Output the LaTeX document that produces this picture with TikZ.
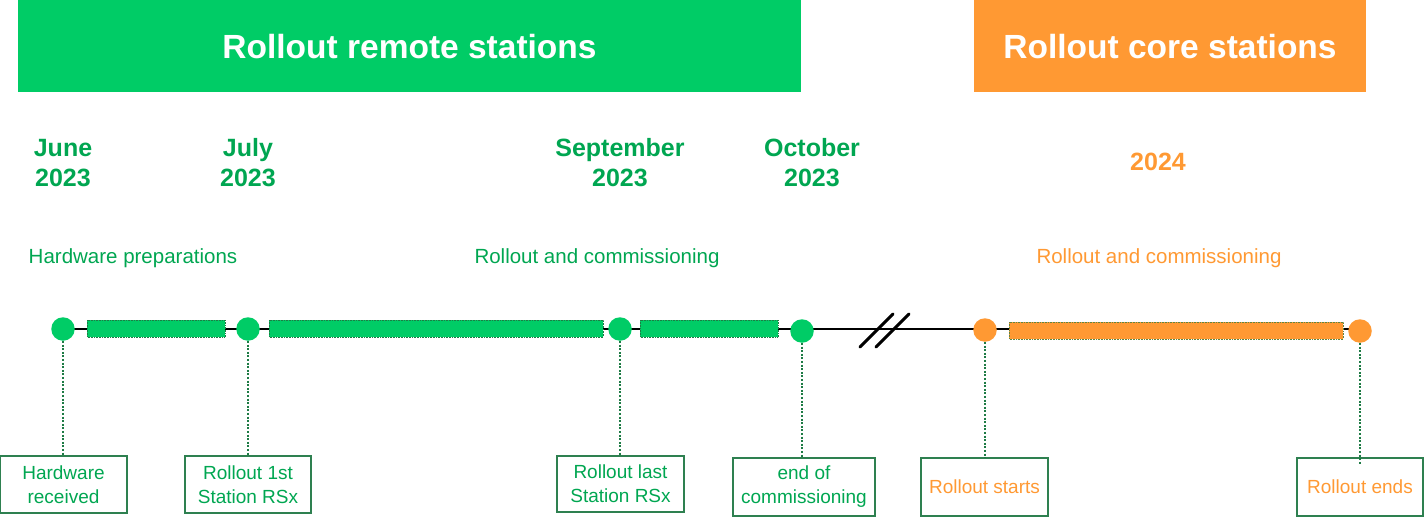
\documentclass[tikz,border=0pt]{standalone}
\usepackage{fontspec}
\setmainfont{Liberation Sans}
\definecolor{hgreen}{HTML}{00CC66}
\definecolor{tgreen}{HTML}{00A651}
\definecolor{dgreen}{HTML}{2E8050}
\definecolor{lgreen}{HTML}{1E7B45}
\definecolor{orng}{HTML}{FF9933}
\begin{document}
\begin{tikzpicture}[x=1pt,y=-1pt,
  header/.style={inner sep=0pt, text=white, font=\fontsize{33.5}{38}\selectfont\bfseries},
  datelbl/.style={align=center, text=tgreen, font=\fontsize{25}{30}\selectfont\bfseries},
  phase/.style={text=tgreen, font=\fontsize{20.5}{24}\selectfont},
  dot/.style={circle, fill=hgreen, inner sep=0pt, minimum size=23.5pt},
  odot/.style={dot, fill=orng},
  bar/.style={fill=hgreen, draw=lgreen, densely dotted, line width=0.6pt},
  obar/.style={bar, fill=orng, draw=lgreen!70!orng},
  ebox/.style={draw=dgreen, line width=1.2pt, align=center, text=tgreen, inner sep=0pt,
     font=\fontsize{19}{24}\selectfont},
  obox/.style={ebox, text=orng},
  leader/.style={draw=lgreen, line width=2pt, dash pattern=on 2pt off 1.6pt}
]
\useasboundingbox (0,0) rectangle (1425,517);
% headers
\fill[hgreen] (18,0) rectangle (801,92);
\node[header] (hremote) at (409.5,47) {Rollout remote stations};
\fill[orng] (974,0) rectangle (1366,92);
\node[header] (hcore) at (1170,47) {Rollout core stations};
% dates
\node[datelbl] (djune) at (63,163) {June\\2023};
\node[datelbl] (djuly) at (248,163) {July\\2023};
\node[datelbl] (dsep) at (620,163) {September\\2023};
\node[datelbl] (doct) at (812,163) {October\\2023};
\node[datelbl, text=orng] (d2024) at (1158,162) {2024};
% phases
\node[phase] (p1) at (133,258) {Hardware preparations};
\node[phase] (p2) at (597,258) {Rollout and commissioning};
\node[phase, text=orng] (p3) at (1159,258) {Rollout and commissioning};
% timeline
\coordinate (tl0) at (63,329);
\coordinate (tl1) at (1360,329);
\draw[line width=1.8pt] (tl0) -- (tl1);
\draw[bar] (87,320) rectangle (225,337);
\draw[bar] (269,320) rectangle (603,337);
\draw[bar] (640,320) rectangle (778,337);
\draw[obar] (1009,322) rectangle (1343,339);
% break marks
\draw[line width=3pt, line cap=round] (860,347) -- (893,314);
\draw[line width=3pt, line cap=round] (876,347) -- (909,314);
% milestones
\node[dot] (m1) at (63,329) {};
\node[dot] (m2) at (248,329) {};
\node[dot] (m3) at (620,329) {};
\node[dot] (m4) at (802,331) {};
\node[odot] (m5) at (985,330) {};
\node[odot] (m6) at (1360,331) {};
% boxes
\node[ebox, minimum width=127pt, minimum height=57pt] (b1) at (63.5,484.5) {Hardware\\received};
\node[ebox, minimum width=126pt, minimum height=57pt] (b2) at (248,484.5) {Rollout 1st\\Station RSx};
\node[ebox, minimum width=127pt, minimum height=56pt] (b3) at (620.5,484) {Rollout last\\Station RSx};
\node[ebox, minimum width=142pt, minimum height=58pt] (b4) at (804,487) {end of\\commissioning};
\node[obox, minimum width=127pt, minimum height=58pt] (b5) at (984.5,487) {Rollout starts};
\node[obox, minimum width=126pt, minimum height=58pt] (b6) at (1360,487) {Rollout ends};
% leaders
\draw[leader] (m1.south) -- (m1.south |- b1.north);
\draw[leader] (m2.south) -- (m2.south |- b2.north);
\draw[leader] (m3.south) -- (m3.south |- b3.north);
\draw[leader] (m4.south) -- (m4.south |- b4.north);
\draw[leader] (m5.south) -- (m5.south |- b5.north);
\draw[leader] (m6.south) -- ([yshift=-7pt]m6.south |- b6.north);
\end{tikzpicture}
\end{document}
